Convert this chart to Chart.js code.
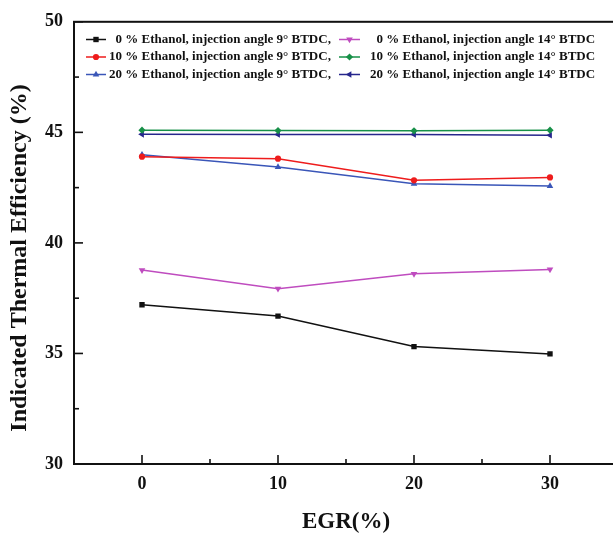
<!DOCTYPE html>
<html>
<head>
<meta charset="utf-8">
<script src="https://cdn.jsdelivr.net/npm/chart.js"></script>
<style>
  html, body { margin: 0; padding: 0; background: #ffffff; overflow: hidden; }
  canvas { display: block; }
</style>
</head>
<body>
<canvas id="iteChart" width="625" height="533"></canvas>
<script>
// EGR rate (%) on the x axis
const egr = [0, 10, 20, 30];

// indicated thermal efficiency (%), one array per ethanol blend / injection timing
const ite0e9 = [37.20, 36.69, 35.31, 34.98];
const ite10e9 = [43.90, 43.81, 42.83, 42.96];
const ite20e9 = [43.99, 43.43, 42.67, 42.57];
const ite0e14 = [38.77, 37.93, 38.60, 38.80];
const ite10e14 = [45.10, 45.08, 45.07, 45.10];
const ite20e14 = [44.91, 44.90, 44.90, 44.87];

const seriesLabels = [
  '0 % Ethanol, injection angle 9\u00b0 BTDC,',
  '10 % Ethanol, injection angle 9\u00b0 BTDC,',
  '20 % Ethanol, injection angle 9\u00b0 BTDC,',
  '0 % Ethanol, injection angle 14\u00b0 BTDC',
  '10 % Ethanol, injection angle 14\u00b0 BTDC',
  '20 % Ethanol, injection angle 14\u00b0 BTDC'
];

const xTicks = [0, 10, 20, 30];
const xMinorTicks = [5, 15, 25];
const yTicks = [30, 35, 40, 45, 50];
const yMinorTicks = [32.5, 37.5, 42.5, 47.5];

const serif = '"Liberation Serif", "Times New Roman", serif';

const style = [
  { color: '#111111', pointStyle: 'rect', rotation: 0, radius: 3.8 },
  { color: '#ee1c1c', pointStyle: 'circle', rotation: 0, radius: 3.1 },
  { color: '#3a56b8', pointStyle: 'triangle', rotation: 0, radius: 3.8 },
  { color: '#bf4cbf', pointStyle: 'triangle', rotation: 180, radius: 3.8 },
  { color: '#179048', pointStyle: 'rectRot', rotation: 0, radius: 3.6 },
  { color: '#26268c', pointStyle: 'triangle', rotation: -90, radius: 3.8 }
];

const seriesValues = [ite0e9, ite10e9, ite20e9, ite0e14, ite10e14, ite20e14];

const datasets = seriesValues.map((vals, i) => ({
  label: seriesLabels[i],
  data: egr.map((x, j) => ({ x: x, y: vals[j] })),
  borderColor: style[i].color,
  backgroundColor: style[i].color,
  borderWidth: 1.5,
  pointStyle: style[i].pointStyle,
  rotation: style[i].rotation,
  pointRadius: style[i].radius,
  pointBorderWidth: 0,
  pointBackgroundColor: style[i].color
}));

// box frame plus inward major/minor ticks
const frameTicks = {
  id: 'frameTicks',
  afterDatasetsDraw(chart) {
    const { ctx, chartArea: a, scales: { x, y } } = chart;
    ctx.save();
    ctx.strokeStyle = '#111111';
    ctx.lineWidth = 1.6;
    xTicks.forEach(v => {
      const px = x.getPixelForValue(v);
      ctx.beginPath(); ctx.moveTo(px, a.bottom); ctx.lineTo(px, a.bottom - 9); ctx.stroke();
    });
    xMinorTicks.forEach(v => {
      const px = x.getPixelForValue(v);
      ctx.beginPath(); ctx.moveTo(px, a.bottom); ctx.lineTo(px, a.bottom - 5); ctx.stroke();
    });
    yTicks.forEach(v => {
      const py = y.getPixelForValue(v);
      ctx.beginPath(); ctx.moveTo(a.left, py); ctx.lineTo(a.left + 9, py); ctx.stroke();
    });
    yMinorTicks.forEach(v => {
      const py = y.getPixelForValue(v);
      ctx.beginPath(); ctx.moveTo(a.left, py); ctx.lineTo(a.left + 5, py); ctx.stroke();
    });
    ctx.lineWidth = 2;
    ctx.strokeRect(a.left, a.top, a.right - a.left, a.bottom - a.top);

    // y axis title, sitting a little below the plot's middle
    ctx.translate(20, 258);
    ctx.rotate(-Math.PI / 2);
    ctx.font = 'bold 24px ' + serif;
    ctx.fillStyle = '#111111';
    ctx.textAlign = 'center';
    ctx.textBaseline = 'middle';
    ctx.fillText('Indicated Thermal Efficiency (%)', 0, 0);
    ctx.restore();
  }
};

// two-column legend inside the plot
const boxLegend = {
  id: 'boxLegend',
  afterDraw(chart) {
    const { ctx } = chart;
    const cols = [
      { lineX: 86, lineW: 20, textX: 109 },
      { lineX: 339, lineW: 21, textX: 370 }
    ];
    const rowY = [39.5, 57, 74.5];
    ctx.save();
    ctx.font = 'bold 13px ' + serif;
    ctx.textBaseline = 'middle';
    ctx.textAlign = 'left';
    const numW = ctx.measureText('10').width;
    chart.data.datasets.forEach((ds, i) => {
      const c = cols[Math.floor(i / 3)];
      const yy = rowY[i % 3];
      ctx.strokeStyle = ds.borderColor;
      ctx.lineWidth = 1.5;
      ctx.beginPath(); ctx.moveTo(c.lineX, yy); ctx.lineTo(c.lineX + c.lineW, yy); ctx.stroke();
      ctx.fillStyle = ds.borderColor;
      Chart.helpers.drawPoint(ctx, {
        pointStyle: ds.pointStyle, rotation: ds.rotation,
        radius: ds.pointRadius, borderWidth: 0
      }, c.lineX + c.lineW / 2, yy);
      const num = ds.label.split(' ')[0];
      const shift = numW - ctx.measureText(num).width;
      ctx.fillStyle = '#111111';
      ctx.fillText(ds.label, c.textX + shift, yy);
    });
    ctx.restore();
  }
};

new Chart(document.getElementById('iteChart'), {
  type: 'line',
  data: { datasets: datasets },
  options: {
    responsive: false,
    animation: false,
    layout: { padding: { top: 17, right: 7, left: 0, bottom: 0 } },
    plugins: { legend: { display: false }, tooltip: { enabled: false } },
    scales: {
      x: {
        type: 'linear',
        min: -5,
        max: 35,
        afterFit(scale) { scale.height = 69; },
        afterBuildTicks(scale) { scale.ticks = xTicks.map(v => ({ value: v })); },
        grid: { display: false, drawTicks: false },
        border: { display: false },
        ticks: {
          padding: 10,
          color: '#111111',
          font: { family: serif, size: 18, weight: 'bold' }
        },
        title: {
          display: true,
          text: 'EGR(%)',
          color: '#111111',
          padding: { top: 0, bottom: -1 },
          font: { family: serif, size: 23, weight: 'bold', lineHeight: 1 }
        }
      },
      y: {
        min: 30,
        max: 50,
        afterFit(scale) { scale.width = 74; },
        afterBuildTicks(scale) { scale.ticks = yTicks.map(v => ({ value: v })); },
        grid: { display: false, drawTicks: false },
        border: { display: false },
        ticks: {
          padding: 11,
          color: '#111111',
          font: { family: serif, size: 18, weight: 'bold' }
        },
        title: { display: false }
      }
    }
  },
  plugins: [frameTicks, boxLegend]
});
</script>
</body>
</html>
